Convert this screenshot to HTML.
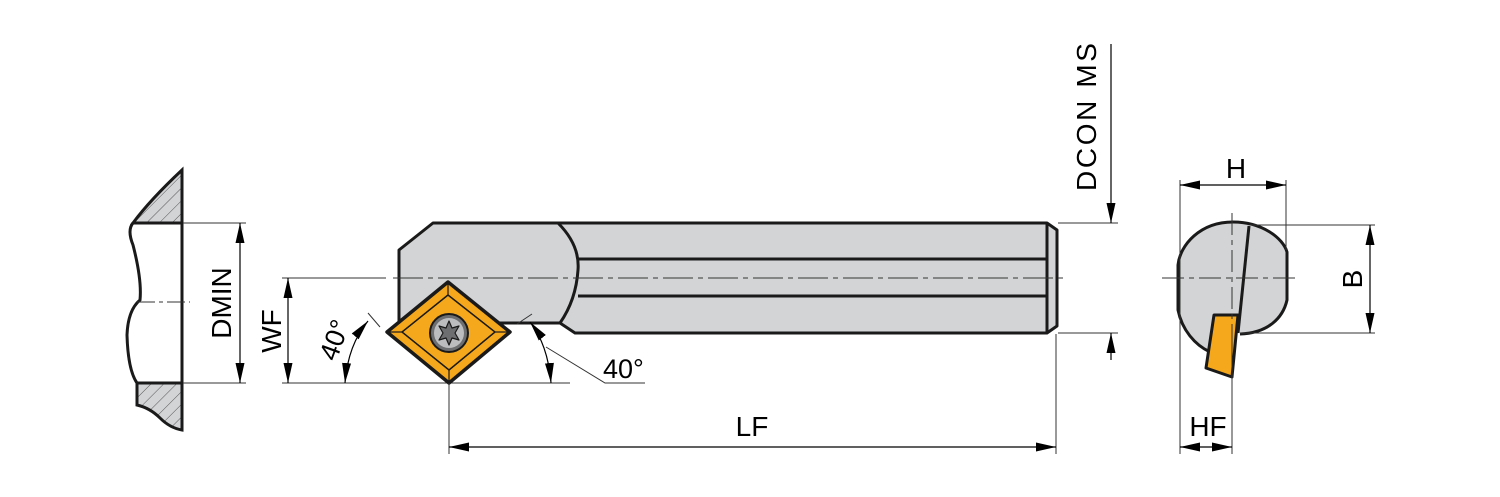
<!DOCTYPE html>
<html><head><meta charset="utf-8"><style>html,body{margin:0;padding:0;background:#fff}svg{display:block}</style></head><body>
<svg width="1500" height="497" viewBox="0 0 1500 497" xmlns="http://www.w3.org/2000/svg" font-family="Liberation Sans, sans-serif">
<defs>
<marker id="a" viewBox="0 0 20 20" refX="20" refY="10" markerWidth="20" markerHeight="20" markerUnits="userSpaceOnUse" orient="auto-start-reverse"><path d="M0,5.5L20,10L0,14.5z" fill="#000"/></marker>
<pattern id="h" width="9" height="9" patternUnits="userSpaceOnUse" patternTransform="rotate(45)"><rect width="9" height="9" fill="#d3d4d6"/><line x1="0" y1="0" x2="0" y2="9" stroke="#555" stroke-width="1"/></pattern>
</defs>
<!-- left section -->
<path d="M182,170 L182,223 L133,223 Q150,200 182,170z" fill="url(#h)" stroke="#1a1a1a" stroke-width="3"/>
<path d="M137,383 L182,383 L182,430 Q170,428 160,418 Q150,408 137,405z" fill="url(#h)" stroke="#1a1a1a" stroke-width="3"/>
<path d="M133,223 Q127,230 133,245 Q142,280 140,300 Q128,310 127,335 Q128,370 137,383 L137,405" fill="none" stroke="#1a1a1a" stroke-width="3"/>
<line x1="182" y1="170" x2="182" y2="430" stroke="#1a1a1a" stroke-width="3"/>
<line x1="137" y1="302" x2="190" y2="302" stroke="#333" stroke-width="1" stroke-dasharray="18,4,4,4"/>
<!-- DMIN -->
<g stroke="#333" stroke-width="1"><line x1="183" y1="223" x2="246" y2="223"/><line x1="183" y1="383" x2="246" y2="383"/></g>
<line x1="240" y1="223" x2="240" y2="383" stroke="#000" stroke-width="1.2" marker-start="url(#a)" marker-end="url(#a)"/>
<text transform="translate(231,303) rotate(-90)" font-size="28" text-anchor="middle">DMIN</text>
<!-- WF -->
<g stroke="#333" stroke-width="1"><line x1="282" y1="278" x2="386" y2="278"/><line x1="282" y1="383" x2="570" y2="383"/></g>
<line x1="288" y1="278" x2="288" y2="383" stroke="#000" stroke-width="1.2" marker-start="url(#a)" marker-end="url(#a)"/>
<text transform="translate(281,331) rotate(-90)" font-size="28" text-anchor="middle">WF</text>
<!-- bar -->
<path d="M433,223 L1047,223 L1057,230 L1057,326 L1047,333 L575,333 L560,323 L517,323 L470,323 L399,323 L399,250z" fill="#d3d4d6" stroke="#1a1a1a" stroke-width="3" stroke-linejoin="round"/>
<path d="M558,223 Q580,245 578,270 Q576,300 560,323" fill="none" stroke="#1a1a1a" stroke-width="3"/>
<line x1="578" y1="259" x2="1047" y2="259" stroke="#1a1a1a" stroke-width="3"/>
<line x1="578" y1="296" x2="1047" y2="296" stroke="#1a1a1a" stroke-width="3"/>
<line x1="1047" y1="223" x2="1047" y2="333" stroke="#1a1a1a" stroke-width="3"/>
<line x1="393" y1="278" x2="1065" y2="278" stroke="#333" stroke-width="1" stroke-dasharray="30,5,5,5"/>
<!-- insert -->
<path d="M448,282 L510,332 L449,383 L387,332z" fill="#f6a81c" stroke="#1a1a1a" stroke-width="3.5" stroke-linejoin="round"/>
<path d="M448,295 L495,332 L449,370 L402,332z" fill="none" stroke="#1a1a1a" stroke-width="1.5"/>
<g stroke="#1a1a1a" stroke-width="1.2"><line x1="448" y1="284" x2="448" y2="295"/><line x1="508" y1="332" x2="495" y2="332"/><line x1="449" y1="381" x2="449" y2="370"/><line x1="389" y1="332" x2="402" y2="332"/></g>
<circle cx="449" cy="333" r="19" fill="#6d6e70" stroke="#1a1a1a" stroke-width="2"/>
<circle cx="449" cy="333" r="15" fill="#bcbdbf"/>
<path d="M449,321 L452,328 L459,326 L455,333 L459,340 L452,338 L449,345 L446,338 L439,340 L443,333 L439,326 L446,328z" fill="#6d6e70" stroke="#1a1a1a" stroke-width="1.2" stroke-linejoin="round"/>
<!-- left 40 -->
<line x1="368" y1="313" x2="380" y2="327" stroke="#333" stroke-width="1"/>
<path d="M345,383 Q348,345 368,321" fill="none" stroke="#000" stroke-width="1.2" marker-start="url(#a)" marker-end="url(#a)"/>
<text transform="translate(343,343) rotate(-70)" font-size="27" text-anchor="middle">40°</text>
<!-- right 40 -->
<line x1="517" y1="324" x2="532" y2="314" stroke="#333" stroke-width="1"/>
<path d="M530,322 Q548,345 551,383" fill="none" stroke="#000" stroke-width="1.2" marker-start="url(#a)" marker-end="url(#a)"/>
<polyline points="546,347 605,383 645,383" fill="none" stroke="#333" stroke-width="1"/>
<text x="603" y="378" font-size="27">40°</text>
<!-- LF -->
<g stroke="#333" stroke-width="1"><line x1="449" y1="383" x2="449" y2="454"/><line x1="1056" y1="334" x2="1056" y2="454"/></g>
<line x1="449" y1="447" x2="1056" y2="447" stroke="#000" stroke-width="1.2" marker-start="url(#a)" marker-end="url(#a)"/>
<text x="752" y="436" font-size="28" text-anchor="middle">LF</text>
<!-- DCON MS -->
<g stroke="#333" stroke-width="1"><line x1="1058" y1="223" x2="1118" y2="223"/><line x1="1058" y1="333" x2="1118" y2="333"/></g>
<line x1="1111" y1="44" x2="1111" y2="223" stroke="#000" stroke-width="1.2" marker-end="url(#a)"/>
<line x1="1111" y1="360" x2="1111" y2="333" stroke="#000" stroke-width="1.2" marker-end="url(#a)"/>
<text transform="translate(1096,117) rotate(-90)" font-size="28" text-anchor="middle" textLength="148">DCON MS</text>
<!-- right view -->
<path d="M1233,222 C1262,222 1283,238 1287,252 L1287,300 C1283,318 1268,333 1240,334 L1238,315 L1214,315 L1210,352 C1195,345 1182,330 1178,310 L1178,265 C1180,245 1200,222 1233,222z" fill="#d3d4d6"/>
<path d="M1233,222 C1262,222 1283,238 1287,252 L1287,300 C1283,318 1268,333 1240,334 M1210,352 C1195,345 1182,330 1178,310 L1178,265 C1180,245 1200,222 1233,222" fill="none" stroke="#1a1a1a" stroke-width="3"/>
<line x1="1249" y1="226" x2="1238" y2="333" stroke="#1a1a1a" stroke-width="3"/>
<path d="M1214,315 L1238,315 L1232,377 L1206,368z" fill="#f6a81c" stroke="#1a1a1a" stroke-width="3" stroke-linejoin="round"/>
<line x1="1162" y1="278" x2="1296" y2="278" stroke="#333" stroke-width="1" stroke-dasharray="22,5,5,5"/>
<line x1="1232" y1="213" x2="1232" y2="330" stroke="#333" stroke-width="1" stroke-dasharray="22,5,5,5"/>
<g stroke="#333" stroke-width="1"><line x1="1232" y1="330" x2="1232" y2="454"/><line x1="1180" y1="180" x2="1180" y2="454"/><line x1="1286" y1="180" x2="1286" y2="250"/><line x1="1250" y1="225" x2="1375" y2="225"/><line x1="1240" y1="333" x2="1375" y2="333"/></g>
<line x1="1180" y1="185" x2="1286" y2="185" stroke="#000" stroke-width="1.2" marker-start="url(#a)" marker-end="url(#a)"/>
<text x="1236" y="178" font-size="28" text-anchor="middle">H</text>
<line x1="1370" y1="225" x2="1370" y2="333" stroke="#000" stroke-width="1.2" marker-start="url(#a)" marker-end="url(#a)"/>
<text transform="translate(1362,279) rotate(-90)" font-size="28" text-anchor="middle">B</text>
<line x1="1180" y1="447" x2="1232" y2="447" stroke="#000" stroke-width="1.2" marker-start="url(#a)" marker-end="url(#a)"/>
<text x="1208" y="436" font-size="28" text-anchor="middle">HF</text>
</svg>
</body></html>
